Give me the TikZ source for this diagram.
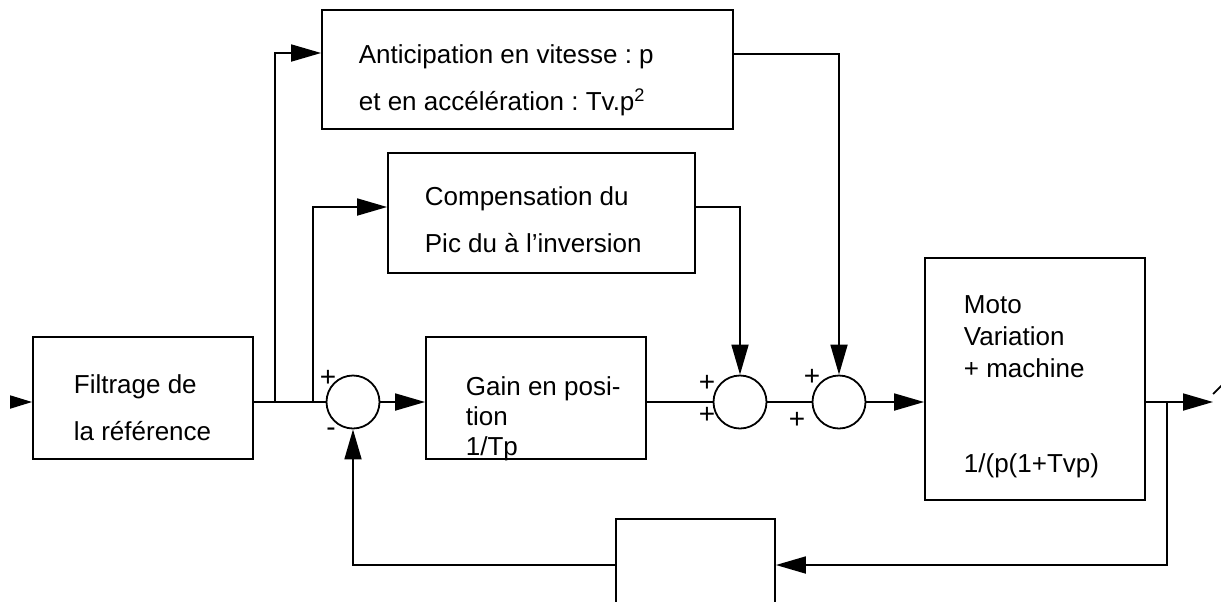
\documentclass[tikz,border=0pt]{standalone}
\usepackage{fontspec}
\setmainfont{Liberation Sans}
\usetikzlibrary{arrows.meta}
\frenchspacing

\begin{document}
\begin{tikzpicture}[x=0.5pt,y=-0.5pt,line width=0.9pt,
    bloc/.style={draw,rectangle,inner sep=0pt},
    somme/.style={draw,circle,minimum size=26.5pt,inner sep=0pt},
    texte/.style={anchor=base west,align=left,inner sep=0pt,font=\fontsize{13}{23.5}\selectfont},
    signe/.style={inner sep=0pt,font=\fontsize{14}{15}\selectfont},
    fl/.style={-{Triangle[length=15pt,width=8.5pt]}},
    flpetit/.style={-{Triangle[length=11pt,width=6.5pt]}}]
    \useasboundingbox (0,0) rectangle (1221,601);
    \clip (0,0) rectangle (1221,601);
    \node [bloc,minimum width=110pt,minimum height=61pt] (filtre) at (143,398) {};
    \node [bloc,minimum width=205.5pt,minimum height=59.5pt] (antic) at (527.5,69.5) {};
    \node [bloc,minimum width=153.5pt,minimum height=60pt] (comp) at (541.5,213) {};
    \node [bloc,minimum width=110pt,minimum height=61pt] (gain) at (536,398) {};
    \node [bloc,minimum width=110pt,minimum height=121pt] (moto) at (1035,379) {};
    \node [bloc,minimum width=79.5pt,minimum height=46pt] (retour) at (695.5,565) {};
    % textes : ancre sur la ligne de base de la derniere ligne
    \node [texte] (filtre-t) at (73,440) {Filtrage de\\la référence};
    \node [texte] (antic-t) at (358,110) {Anticipation en vitesse : p\\et en accélération : Tv.p\textsuperscript{2}};
    \node [texte] (comp-t) at (424,252) {Compensation du\\Pic du à l’inversion};
    \node [texte,font=\fontsize{13}{15}\selectfont] (gain-t) at (465,455) {Gain en posi-\\tion\\1/Tp};
    \node [texte,font=\fontsize{13}{16}\selectfont] (moto-t) at (963,472) {Moto\\Variation\\+ machine\\[31.5pt]1/(p(1+Tvp)};
    \node [somme] (j1) at (353,402) {};
    \node [somme] (j2) at (740,402) {};
    \node [somme] (j3) at (839,402) {};
    \node [signe] (j1-p) at (328,378) {+};
    \node [signe] (j1-m) at (331,432) {-};
    \node [signe] (j2-p) at (707,383) {+};
    \node [signe] (j2-q) at (707,415) {+};
    \node [signe] (j3-p) at (812,377) {+};
    \node [signe] (j3-q) at (797,420) {+};
    \coordinate (entree) at (10,402);
    \coordinate (b1) at (275,402);
    \coordinate (b2) at (313,402);
    \coordinate (b3) at (1167,402);
    \coordinate (sortie) at (1213,402);
    \draw [flpetit] (entree) -- (entree -| filtre.west);
    \draw (entree -| filtre.east) -- (j1.west);
    \draw [fl] (b1) |- ([yshift=8.25pt]antic.west);
    \draw [fl] (b2) |- ([yshift=3pt]comp.west);
    \draw [fl] ([yshift=7.75pt]antic.east) -| (j3.north);
    \draw [fl] ([yshift=3pt]comp.east) -| (j2.north);
    \draw [fl] (j1.east) -- (j1.east -| gain.west);
    \draw (j1.east -| gain.east) -- (j2.west);
    \draw (j2.east) -- (j3.west);
    \draw [fl] (j3.east) -- (j3.east -| moto.west);
    \draw [fl] (sortie -| moto.east) -- (sortie);
    \draw (1213,394) -- (1232,375);
    \draw [fl] (b3) |- (retour.east);
    \draw [fl] (retour.west) -| (j1.south);
\end{tikzpicture}
\end{document}
